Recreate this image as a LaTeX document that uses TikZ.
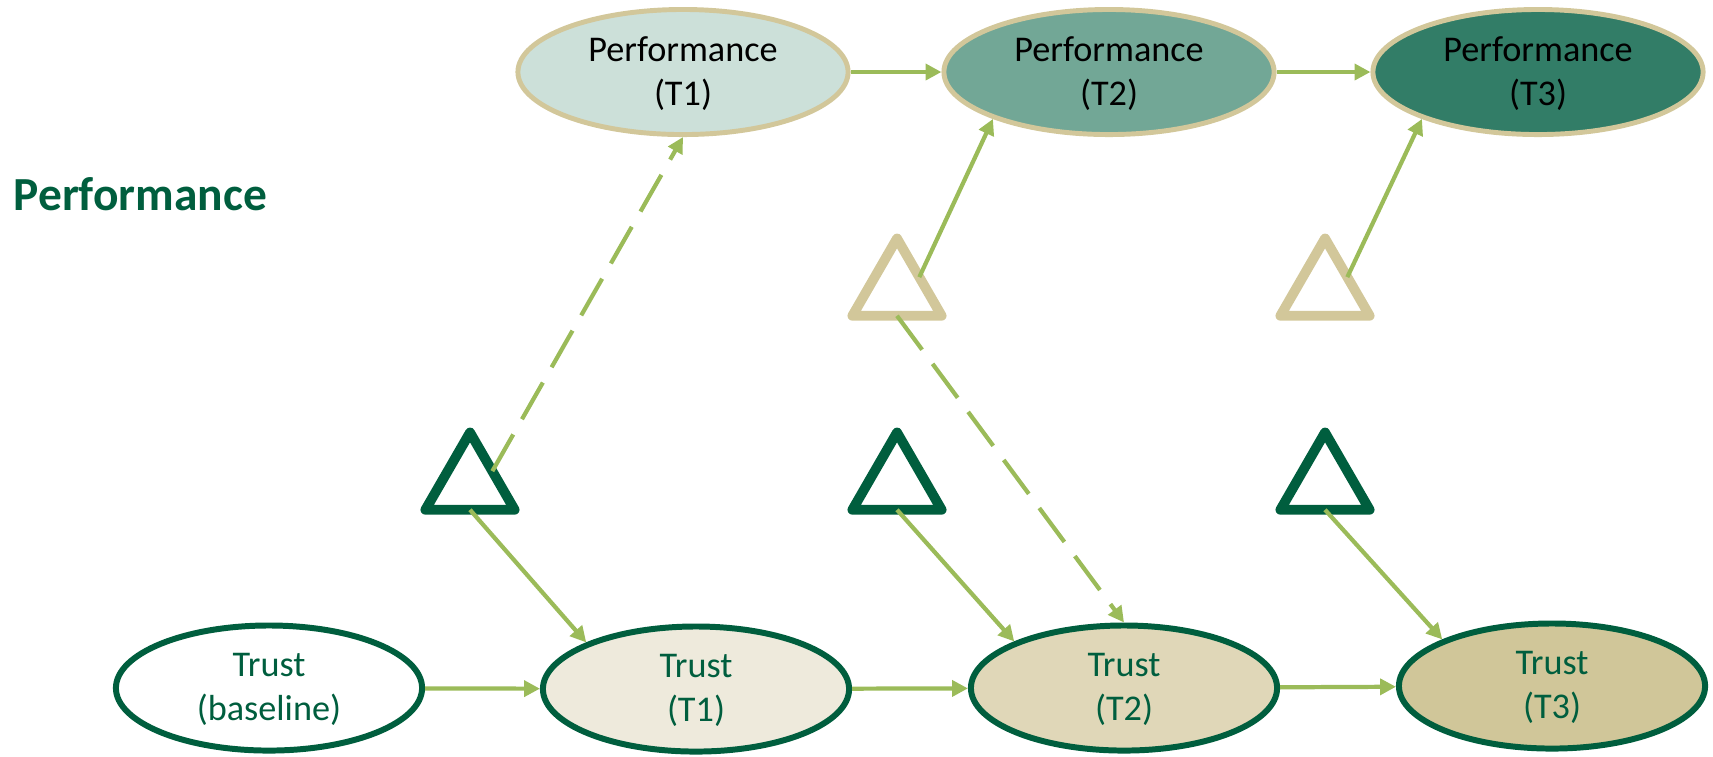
\documentclass[tikz,border=0pt]{standalone}
\usepackage{fontspec}
\setmainfont{Carlito}
\usetikzlibrary{shapes.geometric,arrows.meta}

\definecolor{darkgreen}{RGB}{0,94,62}
\definecolor{tan}{RGB}{210,199,154}
\definecolor{leaf}{RGB}{155,187,89}
\definecolor{perfA}{RGB}{204,224,217}
\definecolor{perfB}{RGB}{114,167,150}
\definecolor{perfC}{RGB}{50,125,103}
\definecolor{trustA}{RGB}{238,234,220}
\definecolor{trustB}{RGB}{224,215,184}
\definecolor{trustC}{RGB}{208,198,153}

\tikzset{
  oval/.style={ellipse, minimum height=1.25cm, inner sep=0pt, align=center,
    text depth=0.5pt, font=\fontsize{10.3}{12.6}\selectfont},
  tri/.style={regular polygon, regular polygon sides=3, minimum size=1.03cm,
    inner sep=0pt, outer sep=0pt, line width=2.8pt, line join=round},
  dashlink/.style={dash pattern=on 12pt off 5pt}
}

\begin{document}
\begin{tikzpicture}[x=0.01cm,y=-0.01cm]
      \useasboundingbox (0,0) rectangle (1713,756);

      \node[font=\bfseries\fontsize{13.5}{16}\selectfont, text=darkgreen, anchor=west, inner sep=0pt] (lab) at (13,194) {Performance};

      \begin{scope}[every node/.style={oval, draw=tan, line width=1.4pt, minimum width=3.3cm}]
        \node[fill=perfA] (p1) at (683,72)  {Performance\\(T1)};
        \node[fill=perfB] (p2) at (1109,72) {Performance\\(T2)};
        \node[fill=perfC] (p3) at (1538,72) {Performance\\(T3)};
      \end{scope}

      \begin{scope}[every node/.style={oval, draw=darkgreen, text=darkgreen, line width=1.7pt, minimum width=3.06cm}]
        \node[fill=white]  (t0) at (269,688)  {Trust\\(baseline)};
        \node[fill=trustA] (t1) at (696,689)  {Trust\\(T1)};
        \node[fill=trustB] (t2) at (1124,688) {Trust\\(T2)};
        \node[fill=trustC] (t3) at (1552,686) {Trust\\(T3)};
      \end{scope}

      \begin{scope}[every node/.style={tri, draw=darkgreen}]
        \node (d1) at (470,484)  {};
        \node (d2) at (897,484)  {};
        \node (d3) at (1325,484) {};
      \end{scope}

      \begin{scope}[every node/.style={tri, draw=tan}]
        \node (e1) at (897,290)  {};
        \node (e2) at (1325,290) {};
      \end{scope}

      \begin{scope}[every edge/.style={draw=leaf, line width=1.2pt, -{Triangle[length=4.5pt,width=4.5pt]}}]
        \path (p1) edge (p2);
        \path (p2) edge (p3);
        \path (t0) edge (t1);
        \path (t1) edge (t2);
        \path (t2) edge (t3);
        \path (d1.side 2) edge (t1.157);
        \path (d2.side 2) edge (t2.157);
        \path (d3.side 2) edge (t3.157);
        \path (e1.side 3) edge (p2.202);
        \path (e2.side 3) edge (p3.202);
        \path (d1.side 3) edge[dashlink] (p1.south);
        \path (e1.side 2) edge[dashlink] (t2.north);
      \end{scope}

    \end{tikzpicture}
\end{document}
